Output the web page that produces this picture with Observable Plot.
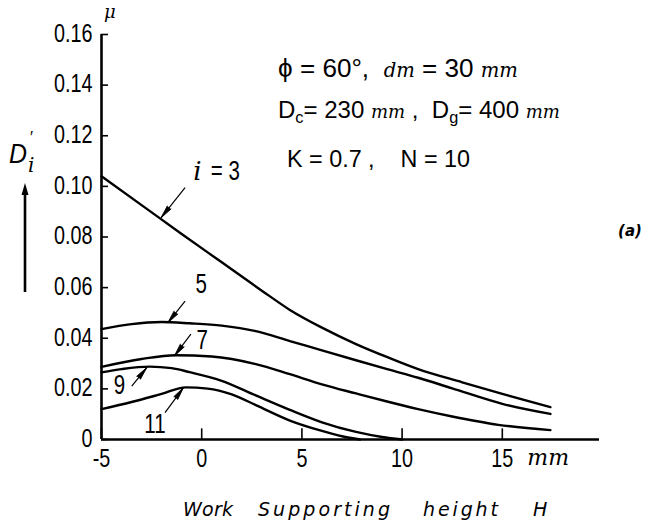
<!DOCTYPE html>
<html><head><meta charset="utf-8">
<script src="https://cdn.jsdelivr.net/npm/d3@7"></script>
<script src="https://cdn.jsdelivr.net/npm/@observablehq/plot@0.6"></script>
<style>html,body{margin:0;padding:0;background:#fff;}</style>
</head><body><div id="chart"></div>
<script>
// ---- data ----
const xTicks = [-5, 0, 5, 10, 15];
const yTicks = [0, 0.02, 0.04, 0.06, 0.08, 0.10, 0.12, 0.14, 0.16];
const seriesNames = ["3", "5", "7", "9", "11"];
const x_i3 = [-5, -3, -1, 1, 3, 4.4, 6, 7.7, 9.3, 10.8, 13, 15, 17.4];
const y_i3 = [0.104, 0.0926, 0.0812, 0.0700, 0.0588, 0.0512, 0.0442, 0.0377, 0.0324, 0.0278, 0.0226, 0.0180, 0.0128];
const x_i5 = [-5, -3.5, -2, -0.6, 1, 2.7, 4.4, 6, 7.7, 9.3, 10.8, 12.5, 15, 17.4];
const y_i5 = [0.0436, 0.0456, 0.0464, 0.0459, 0.0450, 0.0428, 0.0389, 0.0352, 0.0313, 0.0277, 0.0244, 0.0202, 0.0141, 0.0101];
const x_i7 = [-5, -3, -1.3, 0.5, 2.7, 4.4, 6, 7.7, 9.3, 10.8, 12.5, 14.8, 17.4];
const y_i7 = [0.0287, 0.0318, 0.0333, 0.0328, 0.0298, 0.0258, 0.0218, 0.0182, 0.0149, 0.0120, 0.0091, 0.0058, 0.0037];
const x_i9 = [-5, -4, -2.6, -1.5, -0.6, 1, 2.7, 4.4, 6, 7.7, 9, 10];
const y_i9 = [0.0265, 0.0278, 0.0288, 0.0282, 0.0266, 0.0232, 0.0174, 0.0117, 0.0068, 0.0030, 0.0010, 0];
const x_i11 = [-5, -3.5, -2, -0.8, 0.3, 1.5, 2.7, 4.4, 6, 7, 7.9];
const y_i11 = [0.0120, 0.0148, 0.0180, 0.0206, 0.0201, 0.0178, 0.0136, 0.0075, 0.0034, 0.0013, 0];

// curve labels and pointer arrows (data units)
const labelX = [1.18, -0.03, 0.02, -4.1, -2.33];
const labelY = [0.106, 0.0614, 0.0393, 0.0215, 0.0059];
const labelText = ["= 3", "5", "7", "9", "11"];
const arrowX1 = [-0.83, -0.83, -0.54, -3.49, -1.83];
const arrowY1 = [0.0995, 0.0547, 0.0416, 0.0211, 0.0106];
const arrowX2 = [-2.03, -1.69, -1.36, -2.74, -0.91];
const arrowY2 = [0.0876, 0.0461, 0.0330, 0.0284, 0.0205];

// parameter block pieces: text, style
const paramLine1 = [["ϕ = 60°,  ", "reg"], ["dm", "it"], [" = 30 ", "reg"], ["mm", "it"]];
const paramLine2 = [["D", "reg"], ["c", "sub"], ["= 230 ", "back"], ["mm", "it"], [" ,  D", "reg"],
                    ["g", "sub"], ["= 400 ", "back"], ["mm", "it"]];
const paramLine3 = [["K = 0.7 ,    N = 10", "reg"]];
const xTitleWords = ["Work", "Supporting", "height", "H"];

// ---- layout ----
const W = 648, H = 528;
const mL = 101, mR = 49, mT = 34, mB = 89;
const xDomain = [-5, 19.85], yDomain = [0, 0.16];
const FONT = "'Liberation Sans', Arial, sans-serif";
const SERIF = "'DejaVu Serif', serif";
const xs = d3.scaleLinear(xDomain, [mL, W - mR]);
const ys = d3.scaleLinear(yDomain, [H - mB, mT]);

const curveX = [x_i3, x_i5, x_i7, x_i9, x_i11];
const curveY = [y_i3, y_i5, y_i7, y_i9, y_i11];
const rows = [];
seriesNames.forEach((s, k) => curveX[k].forEach((x, j) => rows.push({s, x, y: curveY[k][j]})));

const arrows = seriesNames.map((s, k) => ({
  x1: arrowX1[k], y1: arrowY1[k], x2: arrowX2[k], y2: arrowY2[k],
  rot: Math.atan2(xs(arrowX2[k]) - xs(arrowX1[k]), -(ys(arrowY2[k]) - ys(arrowY1[k]))) * 180 / Math.PI
}));
const labels = labelText.map((t, k) => ({t, x: labelX[k], y: labelY[k]}));

const chart = Plot.plot({
  width: W, height: H,
  marginLeft: mL, marginRight: mR, marginTop: mT, marginBottom: mB,
  x: {domain: xDomain, axis: null},
  y: {domain: yDomain, axis: null},
  style: {fontFamily: FONT, fontSize: "26px", color: "#000", background: "#fff", overflow: "visible"},
  marks: [
    Plot.ruleY(yTicks, {x1: -5, x2: -4.65, stroke: "#000", strokeWidth: 1.6}),
    Plot.ruleX(xTicks, {y1: 0, y2: 0.0042, stroke: "#000", strokeWidth: 1.6}),
    Plot.ruleX([-5], {y1: 0, y2: 0.16, stroke: "#000", strokeWidth: 2.6}),
    Plot.ruleY([0], {x1: -5, x2: 19.85, stroke: "#000", strokeWidth: 2.6}),
    Plot.axisY({ticks: yTicks, tickSize: 0, tickPadding: 9, dy: -1, label: null,
      tickFormat: d => d === 0 ? "0" : d.toFixed(2), fontSize: 26}),
    Plot.axisX({ticks: xTicks, tickSize: 0, tickPadding: 9, label: null,
      tickFormat: d => String(d), fontSize: 26}),
    Plot.line(rows, {x: "x", y: "y", z: "s", curve: "monotone-x", stroke: "#000", strokeWidth: 2.4}),
    Plot.link(arrows, {x1: "x1", y1: "y1", x2: "x2", y2: "y2", stroke: "#000", strokeWidth: 1.2}),
    Plot.vector(arrows, {x: "x2", y: "y2", rotate: "rot", length: 13, r: 2.4, shape: "spike",
      anchor: "end", fill: "#000", stroke: "#000", strokeWidth: 0.8}),
    Plot.text(labels, {x: "x", y: "y", text: "t", fontSize: 27, fill: "#000"}),
    Plot.text(["i"], {x: -0.22, y: 0.106, fontSize: 26, fontStyle: "italic", fill: "#000",
      fontFamily: SERIF}),
    Plot.text(["mm"], {x: 16.25, y: 0, dy: 18, textAnchor: "start", fontSize: 22,
      fontStyle: "italic", fontFamily: SERIF, fill: "#000"})
  ]
});

document.getElementById("chart").appendChild(chart);

const svg = d3.select(chart);
// condense the number glyphs to the narrow lettering of the original
svg.selectAll("text").each(function () {
  const s = this.textContent;
  if (s === "i" || s === "mm") return;
  const L = this.getComputedTextLength();
  this.setAttribute("textLength", L * 0.76);
  this.setAttribute("lengthAdjust", "spacingAndGlyphs");
});

// ---- annotations ----
const g = svg.append("g").attr("fill", "#000").attr("font-family", FONT).attr("text-anchor", "start");

// a line of mixed text, sized so that its natural width fits the original's extent
function fitLine(parts, x, base, width) {
  const t = g.append("text").attr("x", x).attr("y", base);
  const spans = parts.map(([s, st]) => {
    const ts = t.append("tspan").text(s);
    ts.attr("data-st", st);
    if (st === "it") ts.attr("font-style", "italic").attr("font-family", SERIF);
    return ts;
  });
  const apply = f => {
    spans.forEach(ts => {
      const st = ts.attr("data-st");
      const b = st === "it" ? 21 : st === "sub" ? 19 : 28;
      ts.attr("font-size", (b * f).toFixed(2));
      if (st === "sub") ts.attr("dy", (6 * f).toFixed(2));
      if (st === "back") ts.attr("dy", (-6 * f).toFixed(2));
    });
  };
  apply(1);
  const L = t.node().getComputedTextLength();
  apply(width / L);
  return t;
}
fitLine(paramLine1, 278, 77, 240);
fitLine(paramLine2, 278, 118, 282);
fitLine(paramLine3, 287, 167, 183);

// mu at top of y axis
g.append("text").attr("x", 104).attr("y", 18).attr("font-size", 18)
  .attr("font-style", "italic").attr("font-family", SERIF).text("μ");

// y label D'_i with arrow
g.append("text").attr("x", 9).attr("y", 163).attr("font-size", 28).attr("font-style", "italic")
  .attr("textLength", 18).attr("lengthAdjust", "spacingAndGlyphs").text("D");
g.append("text").attr("x", 30).attr("y", 143).attr("font-size", 16).text("′");
g.append("text").attr("x", 28).attr("y", 172).attr("font-size", 20).attr("font-style", "italic")
  .attr("font-family", SERIF).text("i");
const ax = 25, ayTop = 183, ayBot = 292;
g.append("line").attr("x1", ax).attr("x2", ax).attr("y1", ayBot).attr("y2", ayTop + 8)
  .attr("stroke", "#000").attr("stroke-width", 2.6);
g.append("path").attr("d", `M${ax},${ayTop} L${ax - 3.5},${ayTop + 12} L${ax + 3.5},${ayTop + 12} Z`);

// (a)
g.append("text").attr("x", 630).attr("y", 236).attr("text-anchor", "middle")
  .attr("font-size", 15).attr("font-weight", "bold").attr("font-style", "italic")
  .attr("font-family", "'DejaVu Sans', sans-serif").text("(a)");

// x axis title
const xTitlePos = [[183, 50], [258, 132], [423, 75], [533, 11]];
xTitleWords.forEach((t, k) => g.append("text").attr("x", xTitlePos[k][0]).attr("y", 516).attr("font-size", 19)
  .attr("font-style", "italic").attr("font-family", "'DejaVu Sans', sans-serif")
  .attr("textLength", xTitlePos[k][1]).attr("lengthAdjust", "spacing").text(t));
</script>
</body></html>
